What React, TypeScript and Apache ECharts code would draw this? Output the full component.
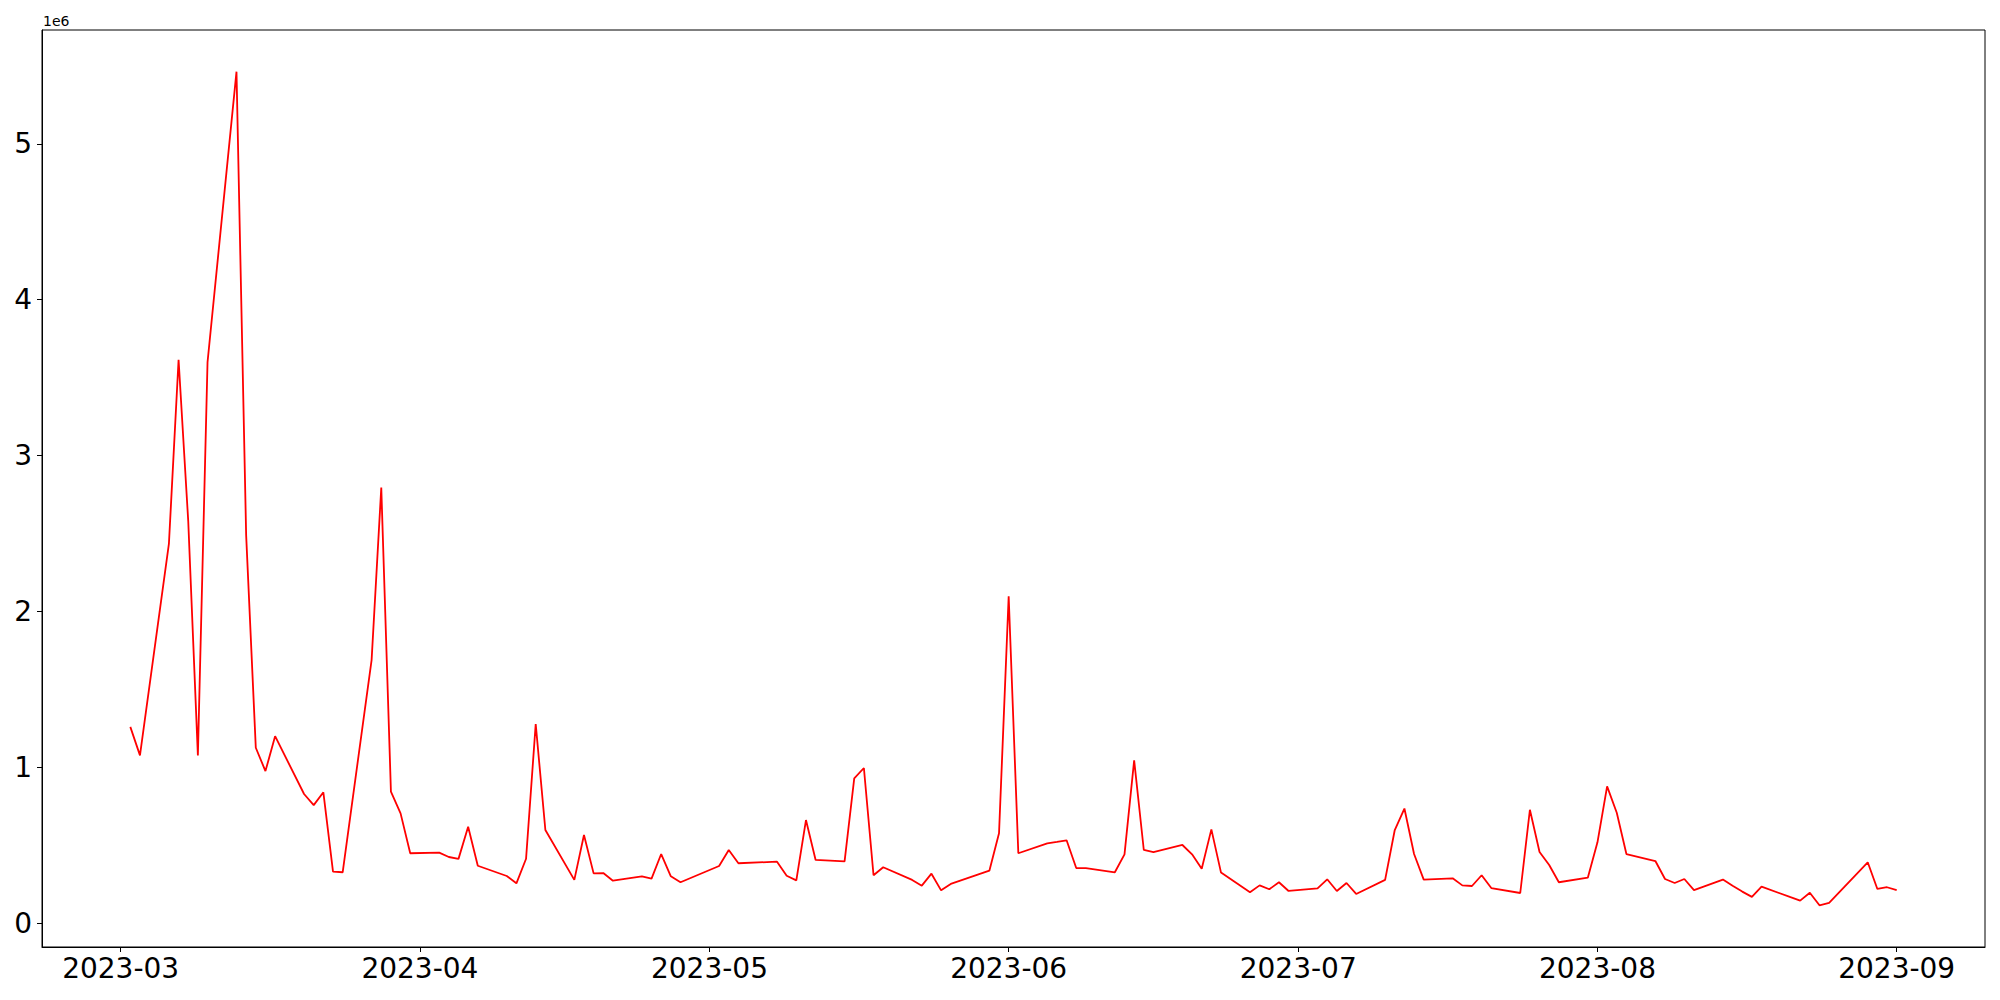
import React, { useEffect, useRef } from "react";
import * as echarts from "echarts";

const dates = [
  "2023-03-02", "2023-03-03", "2023-03-06", "2023-03-07", "2023-03-08", "2023-03-09", "2023-03-10",
  "2023-03-13", "2023-03-14", "2023-03-15", "2023-03-16", "2023-03-17", "2023-03-20", "2023-03-21",
  "2023-03-22", "2023-03-23", "2023-03-24", "2023-03-27", "2023-03-28", "2023-03-29", "2023-03-30",
  "2023-03-31",
  "2023-04-03", "2023-04-04", "2023-04-05", "2023-04-06", "2023-04-07", "2023-04-10", "2023-04-11",
  "2023-04-12", "2023-04-13", "2023-04-14", "2023-04-17", "2023-04-18", "2023-04-19", "2023-04-20",
  "2023-04-21", "2023-04-24", "2023-04-25", "2023-04-26", "2023-04-27", "2023-04-28",
  "2023-05-02", "2023-05-03", "2023-05-04", "2023-05-08", "2023-05-09", "2023-05-10", "2023-05-11",
  "2023-05-12", "2023-05-15", "2023-05-16", "2023-05-17", "2023-05-18", "2023-05-19", "2023-05-22",
  "2023-05-23", "2023-05-24", "2023-05-25", "2023-05-26", "2023-05-30", "2023-05-31",
  "2023-06-01", "2023-06-02", "2023-06-05", "2023-06-06", "2023-06-07", "2023-06-08", "2023-06-09",
  "2023-06-12", "2023-06-13", "2023-06-14", "2023-06-15", "2023-06-16", "2023-06-19", "2023-06-20",
  "2023-06-21", "2023-06-22", "2023-06-23", "2023-06-26", "2023-06-27", "2023-06-28", "2023-06-29",
  "2023-06-30",
  "2023-07-03", "2023-07-04", "2023-07-05", "2023-07-06", "2023-07-07", "2023-07-10", "2023-07-11",
  "2023-07-12", "2023-07-13", "2023-07-14", "2023-07-17", "2023-07-18", "2023-07-19", "2023-07-20",
  "2023-07-21", "2023-07-24", "2023-07-25", "2023-07-26", "2023-07-27", "2023-07-28", "2023-07-31",
  "2023-08-01", "2023-08-02", "2023-08-03", "2023-08-04", "2023-08-07", "2023-08-08", "2023-08-09",
  "2023-08-10", "2023-08-11", "2023-08-14", "2023-08-15", "2023-08-16", "2023-08-17", "2023-08-18",
  "2023-08-21", "2023-08-22", "2023-08-23", "2023-08-24", "2023-08-25", "2023-08-29", "2023-08-30",
  "2023-08-31", "2023-09-01",
];

const values = [
  1260000, 1077000, 2436000, 3615000, 2580000, 1077000, 3600000,
  5463000, 2490000, 1126000, 976000, 1200000, 829000, 758000,
  840000, 331000, 327000, 1690000, 2795000, 844000, 705000,
  449000,
  453000, 425000, 413000, 619000, 369000, 303000, 256000,
  414000, 1278000, 598000, 278000, 566000, 320000, 322000,
  273000, 301000, 286000, 444000, 301000, 263000,
  367000, 470000, 385000, 395000, 305000, 275000, 662000,
  406000, 397000, 929000, 996000, 308000, 359000, 278000,
  241000, 318000, 211000, 252000, 337000, 577000,
  2098000, 449000, 513000, 522000, 532000, 354000, 354000,
  327000, 442000, 1045000, 470000, 457000, 502000, 442000,
  350000, 602000, 325000, 199000, 243000, 218000, 263000,
  207000,
  224000, 282000, 207000, 258000, 188000, 278000, 598000,
  736000, 444000, 280000, 288000, 243000, 239000, 308000,
  226000, 194000, 728000, 457000, 374000, 263000, 292000,
  519000, 878000, 709000, 444000, 399000, 284000, 258000,
  284000, 213000, 280000, 240000, 203000, 169000, 235000,
  167000, 145000, 196000, 115000, 130000, 391000, 220000,
  231000, 212000,
];

const xTickLabels = ["2023-03", "2023-04", "2023-05", "2023-06", "2023-07", "2023-08", "2023-09"];
const yTickValues = [0, 1000000, 2000000, 3000000, 4000000, 5000000];
const yTickLabels = ["0", "1", "2", "3", "4", "5"];
const offsetText = "1e6";

const toTs = (s: string) => {
  const p = s.split("-").map(Number);
  return Date.UTC(p[0], p[1] - 1, p[2] || 1);
};

export default function App() {
  const ref = useRef<HTMLDivElement>(null);
  useEffect(() => {
    if (!ref.current) return;
    const chart = echarts.init(ref.current, null, { renderer: "svg" });
    const xTicks = xTickLabels.map(toTs);
    const first = toTs(dates[0]);
    const last = toTs(dates[dates.length - 1]);
    const pad = (last - first) * 0.05;
    const font = "DejaVu Sans";
    chart.setOption({
      animation: false,
      backgroundColor: "#ffffff",
      grid: {
        left: 42,
        right: 15,
        top: 30,
        bottom: 53,
        show: true,
        borderColor: "#000000",
        borderWidth: 1,
        backgroundColor: "transparent",
      },
      graphic: [
        {
          type: "text",
          left: 43,
          top: 14,
          style: { text: offsetText, font: `14px '${font}'`, fill: "#000000" },
        },
      ],
      xAxis: {
        type: "value",
        min: first - pad,
        max: last + pad,
        scale: true,
        splitLine: { show: false },
        axisLine: { onZero: false, lineStyle: { color: "#000000", width: 1 } },
        axisTick: {
          show: true,
          length: 5,
          customValues: xTicks,
          lineStyle: { color: "#000000", width: 1 },
        },
        axisLabel: {
          customValues: xTicks,
          formatter: (v: number) => {
            const i = xTicks.indexOf(v);
            return i >= 0 ? xTickLabels[i] : "";
          },
          color: "#000000",
          fontSize: 28,
          fontFamily: font,
          margin: 7,
        },
      },
      yAxis: {
        type: "value",
        min: -152400,
        max: 5730400,
        splitLine: { show: false },
        axisLine: { show: true, onZero: false, lineStyle: { color: "#000000", width: 1 } },
        axisTick: {
          show: true,
          length: 5,
          customValues: yTickValues,
          lineStyle: { color: "#000000", width: 1 },
        },
        axisLabel: {
          customValues: yTickValues,
          formatter: (v: number) => {
            const i = yTickValues.indexOf(v);
            return i >= 0 ? yTickLabels[i] : "";
          },
          color: "#000000",
          fontSize: 28,
          fontFamily: font,
          margin: 10,
        },
      },
      series: [
        {
          type: "line",
          data: dates.map((d, i) => [toTs(d), values[i]]),
          showSymbol: false,
          symbol: "none",
          lineStyle: { color: "#ff0000", width: 1.8 },
          itemStyle: { color: "#ff0000" },
          emphasis: { disabled: true },
        },
      ],
    });
    return () => chart.dispose();
  }, []);
  return (
    <div
      ref={ref}
      style={{ position: "fixed", left: 0, top: 0, width: 2000, height: 1000, background: "#fff" }}
    />
  );
}
